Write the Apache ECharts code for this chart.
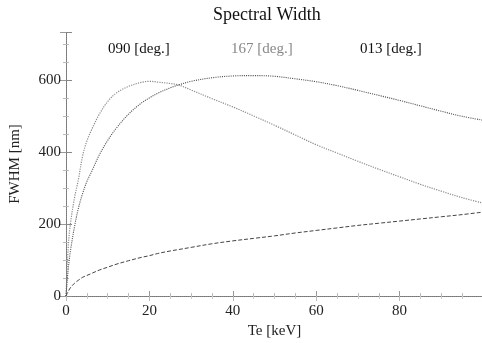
<!DOCTYPE html>
<html>
<head>
<meta charset="utf-8">
<script src="https://cdn.jsdelivr.net/npm/echarts@6/dist/echarts.min.js"></script>
<style>
  html, body { margin: 0; padding: 0; background: #fff; }
  #chart { width: 482px; height: 343px; }
</style>
</head>
<body>
<div id="chart"></div>
<script>
// Te [keV] sample points
const te = [0, 0.5, 1, 2, 3, 4, 5, 6, 8, 10, 12, 15, 18, 20, 22, 25, 27, 30, 35, 40, 45, 50, 55, 60, 65, 70, 75, 80, 85, 90, 95, 100];
// FWHM [nm] per angle
const fwhm090 = [0, 130, 195, 270, 325, 390, 430, 458, 505, 540, 563, 582, 593, 596, 594, 590, 586, 572, 548, 525, 500, 474, 447, 420, 397, 374, 352, 331, 310, 291, 273, 258];
const fwhm167 = [0, 70, 120, 190, 245, 285, 318, 342, 392, 432, 465, 505, 535, 550, 563, 578, 586, 596, 606, 611, 612, 610, 603, 595, 584, 571, 557, 543, 528, 513, 499, 488];
const fwhm013 = [0, 12, 22, 35, 44, 52, 57, 62, 72, 80, 88, 98, 107, 112, 118, 125, 129, 135, 145, 153, 160, 167, 175, 182, 189, 196, 202, 208, 214, 220, 226, 233];
const xTicks = [0, 20, 40, 60, 80];
const yTicks = [0, 200, 400, 600];
const angleLabels = ['090 [deg.]', '167 [deg.]', '013 [deg.]'];

const font = 'Liberation Serif';
const pairs = ys => te.map((x, i) => [x, ys[i]]);

const chart = echarts.init(document.getElementById('chart'));

const frameLine = { show: true, lineStyle: { color: '#777', width: 1, type: 'dotted' } };

chart.setOption({
  animation: false,
  backgroundColor: '#fff',
  grid: { left: 66, top: 32, width: 417, height: 264, outerBoundsMode: 'none' },
  graphic: [
    { type: 'text', left: 273 - 60, top: 6, style: { text: 'Spectral Width', font: '18px "' + font + '"', fill: '#111' } },
    { type: 'text', left: 108, top: 42, style: { text: angleLabels[0], font: '15px "' + font + '"', fill: '#111' } },
    { type: 'text', left: 231, top: 42, style: { text: angleLabels[1], font: '15px "' + font + '"', fill: '#888' } },
    { type: 'text', left: 360, top: 42, style: { text: angleLabels[2], font: '15px "' + font + '"', fill: '#111' } }
  ],
  xAxis: [
    {
      type: 'value', min: 0, max: 100, interval: 20,
      name: 'Te [keV]', nameLocation: 'middle', nameGap: 27,
      nameTextStyle: { fontFamily: font, fontSize: 15, color: '#222' },
      axisLine: frameLine,
      axisTick: { inside: true, length: 5, lineStyle: { color: '#999' } },
      minorTick: { show: true, splitNumber: 4, length: 3, lineStyle: { color: '#bbb' } },
      axisLabel: {
        fontFamily: font, fontSize: 15, color: '#222', margin: 8,
        formatter: v => xTicks.includes(v) ? String(v) : ''
      },
      splitLine: { show: false }
    },
    {
      type: 'value', position: 'top', min: 0, max: 100, interval: 20,
      axisLine: frameLine,
      axisTick: { inside: true, length: 5, lineStyle: { color: '#bbb' } },
      minorTick: { show: true, splitNumber: 4, length: 3, lineStyle: { color: '#ccc' } },
      axisLabel: { show: false },
      splitLine: { show: false }
    }
  ],
  yAxis: [
    {
      type: 'value', min: 0, max: 733, interval: 200,
      name: 'FWHM [nm]', nameLocation: 'middle', nameGap: 43,
      nameTextStyle: { fontFamily: font, fontSize: 15, color: '#222' },
      axisLine: frameLine,
      axisTick: { inside: true, length: 6, lineStyle: { color: '#888' } },
      minorTick: { show: true, splitNumber: 4, length: 3, lineStyle: { color: '#bbb' } },
      axisLabel: {
        fontFamily: font, fontSize: 15, color: '#222', margin: 5,
        showMaxLabel: false,
        formatter: v => yTicks.includes(v) ? String(v) : ''
      },
      splitLine: { show: false }
    },
    {
      type: 'value', position: 'right', min: 0, max: 733, interval: 200,
      axisLine: frameLine,
      axisTick: { inside: true, length: 6, lineStyle: { color: '#999' } },
      minorTick: { show: true, splitNumber: 4, length: 3, lineStyle: { color: '#bbb' } },
      axisLabel: { show: false },
      splitLine: { show: false }
    }
  ],
  series: [
    {
      name: angleLabels[0], type: 'line', smooth: 0.35, symbol: 'none',
      data: pairs(fwhm090),
      lineStyle: { color: '#8a8a8a', width: 1.2, type: 'dotted' }
    },
    {
      name: angleLabels[1], type: 'line', smooth: 0.35, symbol: 'none',
      data: pairs(fwhm167),
      lineStyle: { color: '#555', width: 1.1, type: 'dotted' }
    },
    {
      name: angleLabels[2], type: 'line', smooth: 0.35, symbol: 'none',
      data: pairs(fwhm013),
      lineStyle: { color: '#444', width: 1, type: [4, 2] }
    }
  ]
});
</script>
</body>
</html>
